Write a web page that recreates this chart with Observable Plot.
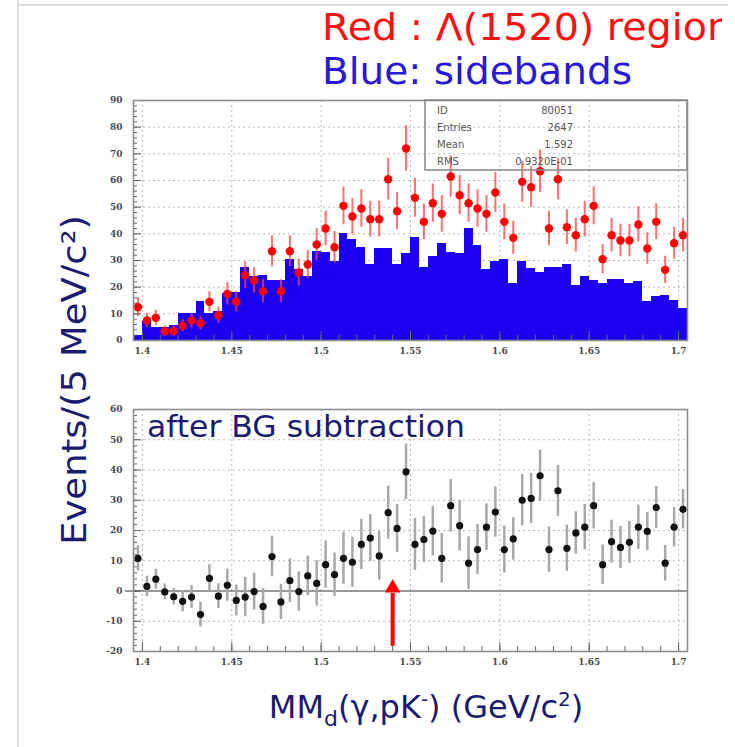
<!DOCTYPE html>
<html>
<head>
<meta charset="utf-8">
<script src="https://cdn.jsdelivr.net/npm/d3@7"></script>
<script src="https://cdn.jsdelivr.net/npm/@observablehq/plot@0.6"></script>
<style>
  body { margin: 0; background: #fff; }
  #chart { position: relative; width: 735px; height: 747px; overflow: hidden; background: #fff; }
  #chart > svg { position: absolute; left: 0; }
</style>
</head>
<body>
<div id="chart"></div>
<script>
// Missing-mass histogram, 5 MeV bins from 1.395 to 1.705 GeV/c^2
const binLow = 1.395;
const binWidth = 0.005;

// Lambda(1520) region (red points) and their errors
const redCounts = [12.5, 7.5, 8.5, 3.5, 3.5, 5.5, 7.5, 6.5, 14.5, 9.5, 17.5, 14.5, 24.5, 22.5, 18.5, 33.5,
  18.5, 33.5, 25.5, 28.5, 36, 42, 35, 50.5, 46.5, 49.5, 45.5, 45.5, 60.5, 48.5, 72, 53.5,
  44.5, 51.5, 47.5, 61.5, 54.5, 51.5, 49.5, 47.5, 55.5, 44.5, 38.5, 59.5, 57.5, 63.5, 42, 60.5,
  42.5, 39.5, 45.5, 50.5, 30.5, 39.5, 37.5, 37.5, 43.5, 34.5, 44.5, 26.5, 36.5, 39.5];
const redErrors = [3.5, 2.7, 2.9, 1.9, 1.9, 2.3, 2.7, 2.5, 3.8, 3.1, 4.2, 3.8, 5.0, 4.7, 4.3, 5.8,
  4.3, 5.8, 5.0, 5.3, 6.0, 6.5, 5.9, 7.1, 6.8, 7.0, 6.7, 6.7, 7.8, 7.0, 8.5, 7.3,
  6.7, 7.2, 6.9, 7.8, 7.4, 7.2, 7.0, 6.9, 7.5, 6.7, 6.2, 7.7, 7.6, 8.0, 6.5, 7.8,
  6.5, 6.3, 6.7, 7.1, 5.5, 6.3, 6.1, 6.1, 6.6, 5.9, 6.7, 5.1, 6.0, 6.3];

// Sidebands (blue histogram)
const sideCounts = [2, 7, 5, 5, 5.5, 10, 10, 14.5, 10, 11, 17.5, 18, 27.5, 24, 24.5, 22.5,
  22.5, 30.5, 26.5, 24, 33.5, 33, 29.5, 40, 38, 35, 28.5, 34.5, 34.5, 28.5, 32.5, 38.5,
  27.5, 31.5, 36.5, 33, 32.5, 42, 35.5, 26.5, 29.5, 30.5, 21.5, 29.5, 27, 25.5, 27.5, 27.5,
  28.5, 20.5, 24, 22.5, 21.5, 23, 23, 21.5, 22, 14.5, 16.5, 17, 15, 12];

// After background subtraction (black points) and their errors
const subCounts = [10.8, 1.5, 3.9, -0.3, -1.9, -3.4, -2.0, -7.8, 4.2, -1.7, 1.9, -3.1, -2.0, -0.2, -5.1, 11.4,
  -3.6, 3.4, -0.2, 5.0, 2.5, 8.7, 5.4, 10.8, 9.5, 15.4, 17.5, 11.6, 25.9, 20.7, 39.4, 15.4,
  17.0, 19.8, 10.8, 28.2, 21.6, 9.2, 13.7, 21.1, 26.1, 13.7, 17.2, 30.0, 30.6, 38.1, 13.7, 33.1,
  14.1, 19.2, 21.1, 28.2, 8.7, 16.3, 14.4, 16.1, 21.1, 19.7, 27.6, 9.2, 21.1, 27.0];
const subErrors = [4.2, 3.4, 3.3, 2.6, 2.7, 3.5, 3.8, 4.1, 4.5, 4.1, 5.3, 5.1, 6.5, 6.1, 5.9, 6.7,
  5.8, 7.2, 6.5, 6.5, 7.5, 7.8, 7.2, 8.6, 8.3, 8.3, 7.7, 8.0, 8.8, 7.9, 9.2, 8.6,
  7.6, 8.2, 8.2, 8.7, 8.4, 8.7, 8.3, 7.7, 8.3, 7.8, 7.0, 8.5, 8.3, 8.5, 7.5, 8.4,
  7.6, 7.0, 7.5, 7.7, 6.5, 7.1, 7.0, 6.9, 7.3, 6.3, 7.0, 5.9, 6.5, 6.5];

// Axes
const xDomain = [1.395, 1.705];
const xTicks = [1.4, 1.45, 1.5, 1.55, 1.6, 1.65, 1.7];
const xTickLabels = ["1.4", "1.45", "1.5", "1.55", "1.6", "1.65", "1.7"];
const topYDomain = [0, 90];
const topYTicks = [0, 10, 20, 30, 40, 50, 60, 70, 80, 90];
const botYDomain = [-20, 60];
const botYTicks = [-20, -10, 0, 10, 20, 30, 40, 50, 60];

// Expected Theta+ mass marker
const thetaMass = 1.54;

// Statistics box entries
const statNames = ["ID", "Entries", "Mean", "RMS"];
const statValues = ["80051", "2647", "1.592", "0.9320E-01"];

const bins = redCounts.map((r, i) => ({
  x1: binLow + i * binWidth,
  x2: binLow + (i + 1) * binWidth,
  x: binLow + (i + 0.5) * binWidth,
  red: r, redErr: redErrors[i],
  side: sideCounts[i],
  sub: subCounts[i], subErr: subErrors[i]
}));

const W = 735;
const mLeft = 133, mRight = 48;
const frameW = W - mLeft - mRight;
const xMinor = d3.range(1.40, 1.7001, 0.01).map(v => +v.toFixed(3));

const tickText = {
  tickSize: 0, fontSize: 9, fill: "#4a4a4a", label: null,
  fontFamily: "DejaVu Serif", fontWeight: "bold"
};
const gridStyle = { stroke: "#b8b8b8", strokeOpacity: 1, strokeDasharray: "2,3" };
const frameStyle = { stroke: "#8c8c8c", strokeWidth: 1.6 };
const tickStyle = { stroke: "#666", strokeWidth: 1 };

function axisMarks(yTicks, yMinorStep, yDomain, frameH) {
  const yMinor = d3.range(yDomain[0], yDomain[1] + 0.001, yMinorStep);
  return [
    Plot.axisX(xTicks, { ...tickText, tickPadding: 7, tickFormat: d => xTickLabels[xTicks.indexOf(d)] }),
    Plot.axisY(yTicks, { ...tickText, tickPadding: 11, tickFormat: d => String(d) }),
    Plot.tickX(xMinor, { x: d => d, insetTop: frameH - 5, ...tickStyle }),
    Plot.tickX(xTicks, { x: d => d, insetTop: frameH - 9, ...tickStyle }),
    Plot.tickY(yMinor, { y: d => d, insetRight: frameW - 4, ...tickStyle }),
    Plot.tickY(yTicks, { y: d => d, insetRight: frameW - 8, ...tickStyle })
  ];
}

// Upper panel: Lambda(1520) region over sidebands
const topH = 365, topMT = 100, topMB = 25;
const topPlot = Plot.plot({
  width: W, height: topH,
  marginLeft: mLeft, marginRight: mRight, marginTop: topMT, marginBottom: topMB,
  x: { domain: xDomain, axis: null, label: null },
  y: { domain: topYDomain, axis: null, label: null },
  style: { background: "transparent", overflow: "visible" },
  marks: [
    Plot.gridX(xTicks, gridStyle),
    Plot.gridY(topYTicks.slice(1), gridStyle),
    Plot.rectY(bins, { x1: "x1", x2: "x2", y: "side", fill: "#1c00f0", shapeRendering: "crispEdges" }),
    ...axisMarks(topYTicks, 2, topYDomain, topH - topMT - topMB),
    Plot.ruleX(bins, { x: "x", y1: d => d.red - d.redErr, y2: d => d.red + d.redErr, stroke: "#ff4040", strokeOpacity: 0.75, strokeWidth: 2 }),
    Plot.dot(bins, { x: "x", y: "red", r: 4.2, fill: "#ff0000" }),
    Plot.frame(frameStyle)
  ]
});
topPlot.style.top = "0px";

// Lower panel: background-subtracted spectrum
const botTop = 365, botH = 310, botMT = 44, botMB = 24;
const botPlot = Plot.plot({
  width: W, height: botH,
  marginLeft: mLeft, marginRight: mRight, marginTop: botMT, marginBottom: botMB,
  x: { domain: xDomain, axis: null, label: null },
  y: { domain: botYDomain, axis: null, label: null },
  style: { background: "transparent", overflow: "visible" },
  marks: [
    Plot.gridX(xTicks, gridStyle),
    Plot.gridY(botYTicks.filter(v => v !== 0 && v !== -20 && v !== 60), gridStyle),
    ...axisMarks(botYTicks, 2, botYDomain, botH - botMT - botMB),
    Plot.ruleY([0], { x1: 1.3905, x2: 1.705, stroke: "#333", strokeWidth: 1 }),
    Plot.ruleX(bins, { x: "x", y1: d => d.sub - d.subErr, y2: d => d.sub + d.subErr, stroke: "#a8a8a8", strokeWidth: 2.5 }),
    Plot.dot(bins, { x: "x", y: "sub", r: 3.6, fill: "#111" }),
    Plot.ruleX([thetaMass], { x: d => d, y1: -18.3, y2: -0.8, stroke: "#ff0000", strokeWidth: 4 }),
    Plot.dot([thetaMass], { x: d => d, y: 1.0, symbol: "triangle", r: 5.8, fill: "#ff0000" }),
    Plot.frame(frameStyle)
  ]
});
botPlot.style.top = botTop + "px";

const chart = document.getElementById("chart");
chart.appendChild(topPlot);
chart.appendChild(botPlot);

// Slide text, borders and the statistics box
const navy = "#1c1a6e";
const ns = "http://www.w3.org/2000/svg";
const over = d3.create("svg")
  .attr("xmlns", ns)
  .attr("width", W).attr("height", 747)
  .style("top", "0px")
  .attr("font-family", "DejaVu Sans");

over.append("line").attr("x1", 18).attr("x2", 18).attr("y1", 0).attr("y2", 747)
  .attr("stroke", "#dcdcdc").attr("stroke-width", 2);
over.append("line").attr("x1", 18).attr("x2", 728).attr("y1", 5).attr("y2", 5)
  .attr("stroke", "#dcdcdc").attr("stroke-width", 2);

over.append("clipPath").attr("id", "titleClip")
  .append("rect").attr("x", 0).attr("y", 0).attr("width", 722).attr("height", 100);
const titles = over.append("g").attr("clip-path", "url(#titleClip)");
titles.append("text").attr("x", 322).attr("y", 40)
  .attr("font-size", 38).attr("fill", "#ff1010")
  .attr("textLength", 410).attr("lengthAdjust", "spacingAndGlyphs")
  .text("Red : \u039B(1520) region");
titles.append("text").attr("x", 322).attr("y", 84)
  .attr("font-size", 38).attr("fill", "#2a18d8")
  .attr("textLength", 310).attr("lengthAdjust", "spacingAndGlyphs")
  .text("Blue: sidebands");

over.append("text")
  .attr("transform", "translate(86,380) rotate(-90)")
  .attr("text-anchor", "middle")
  .attr("font-size", 34).attr("fill", navy)
  .attr("textLength", 330).attr("lengthAdjust", "spacingAndGlyphs")
  .text("Events/(5 MeV/c\u00B2)");

over.append("text").attr("x", 147).attr("y", 437)
  .attr("font-size", 31).attr("fill", navy)
  .attr("textLength", 318).attr("lengthAdjust", "spacingAndGlyphs")
  .text("after BG subtraction");

const xl = over.append("text").attr("x", 426).attr("y", 718)
  .attr("text-anchor", "middle").attr("font-size", 32).attr("fill", navy);
xl.append("tspan").text("MM");
xl.append("tspan").attr("font-size", 22).attr("dy", 8).text("d");
xl.append("tspan").attr("dy", -8).text("(\u03B3,pK");
xl.append("tspan").attr("font-size", 20).attr("dy", -12).text("-");
xl.append("tspan").attr("dy", 12).text(") (GeV/c");
xl.append("tspan").attr("font-size", 20).attr("dy", -12).text("2");
xl.append("tspan").attr("dy", 12).text(")");

const stats = over.append("g").attr("font-size", 10).attr("fill", "#555");
stats.append("rect").attr("x", 425).attr("y", 100).attr("width", 262).attr("height", 70)
  .attr("fill", "none").attr("stroke", "#8c8c8c").attr("stroke-width", 1.6);
statNames.forEach((name, i) => {
  const yy = 113.5 + i * 17;
  stats.append("text").attr("x", 437).attr("y", yy).text(name);
  stats.append("text").attr("x", 573).attr("y", yy).attr("text-anchor", "end").text(statValues[i]);
});

chart.appendChild(over.node());
</script>
</body>
</html>
